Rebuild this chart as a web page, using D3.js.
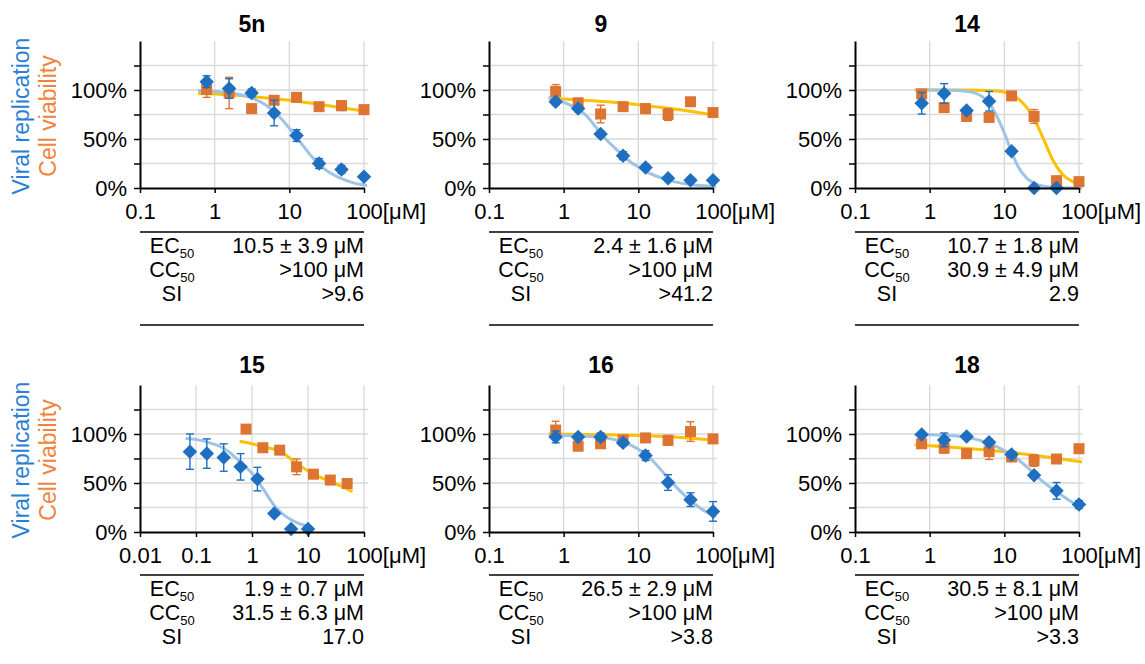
<!DOCTYPE html>
<html>
<head>
<meta charset="utf-8">
<script src="https://cdn.jsdelivr.net/npm/d3@7"></script>
<style>
  body { margin: 0; background: #fff; }
  svg { display: block; font-family: "Liberation Sans", Arial, sans-serif; }
</style>
</head>
<body>
<svg id="chart" width="1145" height="664"></svg>
<script>
// compound names
var titles = ['5n', '9', '14', '15', '16', '18']

// concentrations [µM]
var conc = [0.78125, 1.5625, 3.125, 6.25, 12.5, 25, 50, 100]
var conc14Viral = [0.78125, 1.5625, 3.125, 6.25, 12.5, 25, 50]
var conc15Viral = [0.078, 0.156, 0.3125, 0.625, 1.25, 2.5, 5, 10]
var conc15Cell = [0.78125, 1.5625, 3.125, 6.25, 12.5, 25, 50]

// 5n
var viral5n = [108.5, 101.5, 97, 76.5, 53.5, 25, 19, 11.5]
var viral5nErr = [6, 10, 4, 13, 6, 5, 4, 2]
var cell5n = [100.5, 97, 81, 89.5, 92.5, 83, 84, 80]
var cell5nErr = [8, 16, 1, 4, 2, 3, 5, 2]
var fitViral5n = [[0.6, 99.5], [1, 98.7], [2, 96], [3, 92.5], [5, 84], [7, 74.5], [10, 61], [15, 44], [20, 32], [30, 19], [50, 9.5], [70, 5.5], [100, 3], [110, 2.5]]
var fitCell5n = [[0.6, 96.5], [1, 95.8], [3, 93.5], [10, 89.5], [30, 84.5], [110, 78]]

// 9
var viral9 = [88, 81, 55, 33, 21, 10, 8, 8]
var viral9Err = [3, 3, 3, 4, 3, 1.5, 1, 1]
var cell9 = [98.5, 87, 75.5, 83, 81, 75, 88, 77]
var cell9Err = [7, 2, 9, 2, 5, 6, 4, 4]
var fitViral9 = [[0.63, 92.5], [0.78, 90], [1, 87.5], [1.56, 80], [2, 74], [3, 57.5], [4, 47], [5, 40], [6.25, 33], [8, 26], [10, 21.5], [12.5, 17], [20, 10.5], [30, 6.5], [50, 3.5], [100, 1.5], [110, 1.3]]
var fitCell9 = [[0.63, 91.5], [1, 90.8], [3, 88.5], [10, 85], [30, 80.5], [110, 74]]

// 14
var viral14 = [86.5, 96.5, 79, 88.5, 37.5, 0, 0]
var viral14Err = [11, 10, 3, 10, 3, 0, 0]
var cell14 = [96, 82, 73, 72, 94, 73, 7.5, 6.5]
var cell14Err = [2, 1, 2, 1, 3, 7, 2, 1]
var fitViral14 = [[0.63, 100], [1, 100], [2, 99.7], [3, 98.8], [4, 97], [5, 93.5], [6.25, 87], [8, 72.5], [10, 56], [12.5, 37], [15, 23], [20, 10], [25, 5], [35, 1.5], [50, 0.5], [110, 0]]
var fitCell14 = [[0.63, 100], [3, 100], [6, 99.5], [10, 98], [12.5, 95.5], [16, 90], [20, 82], [25, 71], [30, 58], [35, 46.5], [45, 28], [60, 14], [80, 7], [110, 4]]

// 15
var viral15 = [82, 80, 76, 66.5, 54, 19, 3, 3]
var viral15Err = [18, 15, 14, 13.5, 12, 2, 1, 1]
var cell15 = [105, 86, 83.5, 66.5, 59, 53, 49.5]
var cell15Err = [1, 3, 1, 8, 1, 1, 1]
var fitViral15 = [[0.065, 95.5], [0.1, 94.5], [0.2, 90], [0.3, 86], [0.5, 76.5], [0.625, 71], [1, 60], [1.5, 46], [2.5, 27], [3.5, 18.5], [5, 12.5], [7, 8.5], [11, 5.5]]
var fitCell15 = [[0.6, 92.5], [1, 90], [1.56, 87], [3.125, 82.5], [6.25, 70], [12.5, 59], [25, 51.5], [50, 44], [62, 41]]

// 16
var viral16 = [97, 97, 97, 91, 78, 50.5, 33, 21]
var viral16Err = [6, 3, 4, 3, 5, 8, 7, 10]
var cell16 = [104, 87.5, 90, 94, 96, 93.5, 102.5, 95]
var cell16Err = [9, 1, 3, 1, 1, 5, 10, 1]
var fitViral16 = [[0.63, 98.7], [1, 98.4], [2, 97.6], [3, 96.7], [5, 94], [7, 90.5], [10, 84.5], [15, 74], [20, 63.5], [25, 55], [35, 43], [50, 32], [70, 23.5], [100, 17], [110, 15.5]]
var fitCell16 = [[0.63, 100], [1, 99.8], [3, 99.3], [10, 98.5], [30, 97], [110, 93.5]]

// 18
var viral18 = [99.5, 94, 97.5, 91.5, 79, 58, 42, 28]
var viral18Err = [2, 7, 3, 3, 3, 3, 8.5, 4]
var cell18 = [90, 85.5, 80, 82, 76.5, 73, 74.5, 85]
var cell18Err = [2, 5, 1, 8, 2, 6, 1, 4]
var fitViral18 = [[0.63, 99.5], [1, 99.2], [2, 98.2], [3, 96.8], [5, 93], [7, 89], [10, 83], [15, 74.5], [20, 66.5], [30, 54], [50, 41], [70, 33.5], [100, 26], [110, 24.5]]
var fitCell18 = [[0.63, 89], [1, 88], [3, 85.5], [10, 82], [30, 77.5], [110, 71.5]]

// table below each plot
var tableEC = ['10.5 ± 3.9 μM', '2.4 ± 1.6 μM', '10.7 ± 1.8 μM', '1.9 ± 0.7 μM', '26.5 ± 2.9 μM', '30.5 ± 8.1 μM']
var tableCC = ['>100 μM', '>100 μM', '30.9 ± 4.9 μM', '31.5 ± 6.3 μM', '>100 μM', '>100 μM']
var tableSI = ['>9.6', '>41.2', '2.9', '17.0', '>3.8', '>3.3']

var xTicksStd = [0.1, 1, 10, 100]
var xTicks15 = [0.01, 0.1, 1, 10, 100]
var yTicks = [0, 25, 50, 75, 100, 125]

var compounds = [
  { vx: conc, vy: viral5n, ve: viral5nErr, cx: conc, cy: cell5n, ce: cell5nErr, fv: fitViral5n, fc: fitCell5n, ticks: xTicksStd },
  { vx: conc, vy: viral9, ve: viral9Err, cx: conc, cy: cell9, ce: cell9Err, fv: fitViral9, fc: fitCell9, ticks: xTicksStd },
  { vx: conc14Viral, vy: viral14, ve: viral14Err, cx: conc, cy: cell14, ce: cell14Err, fv: fitViral14, fc: fitCell14, ticks: xTicksStd },
  { vx: conc15Viral, vy: viral15, ve: viral15Err, cx: conc15Cell, cy: cell15, ce: cell15Err, fv: fitViral15, fc: fitCell15, ticks: xTicks15 },
  { vx: conc, vy: viral16, ve: viral16Err, cx: conc, cy: cell16, ce: cell16Err, fv: fitViral16, fc: fitCell16, ticks: xTicksStd },
  { vx: conc, vy: viral18, ve: viral18Err, cx: conc, cy: cell18, ce: cell18Err, fv: fitViral18, fc: fitCell18, ticks: xTicksStd }
]

var BLUE = '#1f6fc0'
var BLUE_FIT = '#9dc3e6'
var ORANGE = '#dd7431'
var ORANGE_FIT = '#ffc000'
var GRID = '#d9d9d9'
var FS = 22
var FONT = '"Liberation Sans", Arial, sans-serif'

var colX = [140, 489, 855]
var plotW = 224
var rows = [
  { top: 41, bottom: 188, title: 32, table: 232, ylab: 116 },
  { top: 385, bottom: 532, title: 373, table: 575, ylab: 460 }
]

var svg = d3.select('#chart')

rows.forEach(function (r) {
  svg.append('text')
    .attr('transform', 'translate(29,' + r.ylab + ') rotate(-90)')
    .attr('text-anchor', 'middle')
    .style('font-size', '23px')
    .style('fill', '#2a7fd2')
    .text('Viral replication')
  svg.append('text')
    .attr('transform', 'translate(56,' + r.ylab + ') rotate(-90)')
    .attr('text-anchor', 'middle')
    .style('font-size', '23px')
    .style('fill', '#f0843c')
    .text('Cell viability')
})

function fmtTick (d) {
  if (d < 0.1) return '0.01'
  if (d < 1) return '0.1'
  return String(d)
}

compounds.forEach(function (c, i) {
  var r = rows[Math.floor(i / 3)]
  var x0 = colX[i % 3]
  var ticks = c.ticks

  var x = d3.scaleLog().domain([ticks[0], 100]).range([x0, x0 + plotW])
  var y = d3.scaleLinear().domain([0, 150]).range([r.bottom, r.top])

  var g = svg.append('g')

  // title
  g.append('text')
    .attr('x', x0 + plotW / 2)
    .attr('y', r.title)
    .attr('text-anchor', 'middle')
    .style('font-size', '23px')
    .style('font-weight', 'bold')
    .text(titles[i])

  // grid
  var grid = g.append('g')
  grid.selectAll('line.h')
    .data(yTicks.slice(1))
    .enter().append('line')
    .attr('x1', x0).attr('x2', x0 + plotW + 4)
    .attr('y1', function (d) { return y(d) })
    .attr('y2', function (d) { return y(d) })
    .attr('stroke', GRID).attr('stroke-width', 1.3)
  grid.selectAll('line.v')
    .data(ticks.slice(1))
    .enter().append('line')
    .attr('x1', function (d) { return x(d) })
    .attr('x2', function (d) { return x(d) })
    .attr('y1', r.bottom).attr('y2', r.top)
    .attr('stroke', GRID).attr('stroke-width', 1.3)

  // fitted curves
  var line = d3.line()
    .x(function (d) { return x(d[0]) })
    .y(function (d) { return y(d[1]) })
    .curve(d3.curveMonotoneX)

  g.append('path').datum(c.fc)
    .attr('d', line).attr('fill', 'none')
    .attr('stroke', ORANGE_FIT).attr('stroke-width', 3)
  g.append('path').datum(c.fv)
    .attr('d', line).attr('fill', 'none')
    .attr('stroke', BLUE_FIT).attr('stroke-width', 3)

  function drawSeries (xs, ys, es, color, symbolSize, rotate) {
    var pts = xs.map(function (v, k) { return { x: v, y: ys[k], e: es[k] } })
    var s = g.append('g')
    var eb = s.selectAll('g.err').data(pts).enter().append('g')
      .attr('stroke', color).attr('stroke-width', 1.4)
    eb.append('line')
      .attr('x1', function (d) { return x(d.x) }).attr('x2', function (d) { return x(d.x) })
      .attr('y1', function (d) { return y(d.y - d.e) }).attr('y2', function (d) { return y(d.y + d.e) })
    eb.append('line')
      .attr('x1', function (d) { return x(d.x) - 4 }).attr('x2', function (d) { return x(d.x) + 4 })
      .attr('y1', function (d) { return y(d.y + d.e) }).attr('y2', function (d) { return y(d.y + d.e) })
    eb.append('line')
      .attr('x1', function (d) { return x(d.x) - 4 }).attr('x2', function (d) { return x(d.x) + 4 })
      .attr('y1', function (d) { return y(d.y - d.e) }).attr('y2', function (d) { return y(d.y - d.e) })
    s.selectAll('path.m').data(pts).enter().append('path')
      .attr('d', d3.symbol(d3.symbolSquare, symbolSize))
      .attr('transform', function (d) {
        return 'translate(' + x(d.x) + ',' + y(d.y) + ') rotate(' + rotate + ')'
      })
      .attr('fill', color)
  }

  drawSeries(c.cx, c.cy, c.ce, ORANGE, 121, 0)
  drawSeries(c.vx, c.vy, c.ve, BLUE, 105, 45)

  // axes
  var xAxis = g.append('g')
    .attr('transform', 'translate(0,' + r.bottom + ')')
    .call(d3.axisBottom(x).tickValues(ticks).tickSize(5).tickSizeOuter(0).tickFormat(fmtTick))
  xAxis.select('.domain').attr('stroke', '#000').attr('stroke-width', 2)
  xAxis.selectAll('.tick line').attr('stroke', '#000').attr('stroke-width', 1.5)
  xAxis.selectAll('.tick text')
    .attr('y', 15).attr('fill', '#000')
    .style('font-size', FS + 'px').style('font-family', FONT)
  xAxis.selectAll('.tick text').filter(function (d) { return d === 100 })
    .each(function () {
      var w = this.getComputedTextLength()
      d3.select(this).attr('text-anchor', 'start').attr('x', -w / 2)
        .append('tspan').text('[μM]')
    })

  var yAxis = g.append('g')
    .attr('transform', 'translate(' + x0 + ',0)')
    .call(d3.axisLeft(y).tickValues(yTicks).tickSize(6).tickSizeOuter(0).tickPadding(7)
      .tickFormat(function (d) { return d % 50 === 0 ? d + '%' : '' }))
  yAxis.select('.domain').attr('stroke', '#000').attr('stroke-width', 2)
  yAxis.selectAll('.tick line').attr('stroke', '#000').attr('stroke-width', 1.5)
  yAxis.selectAll('.tick text')
    .attr('fill', '#000')
    .style('font-size', FS + 'px').style('font-family', FONT)

  // table
  var t = g.append('g')
  t.append('line')
    .attr('x1', x0).attr('x2', x0 + plotW)
    .attr('y1', r.table).attr('y2', r.table)
    .attr('stroke', '#000').attr('stroke-width', 1.5)
  t.append('line')
    .attr('x1', x0).attr('x2', x0 + plotW)
    .attr('y1', r.table + 93).attr('y2', r.table + 93)
    .attr('stroke', '#000').attr('stroke-width', 1.5)

  var labels = [['EC', '50'], ['CC', '50'], ['SI', '']]
  var values = [tableEC[i], tableCC[i], tableSI[i]]
  var offs = [21, 45, 69]
  labels.forEach(function (lab, k) {
    var tx = t.append('text')
      .attr('x', x0 + 32).attr('y', r.table + offs[k])
      .attr('text-anchor', 'middle')
      .style('font-size', '21.5px')
      .text(lab[0])
    if (lab[1]) {
      tx.append('tspan').attr('dy', 5).style('font-size', '13px').text(lab[1])
    }
    t.append('text')
      .attr('x', x0 + plotW).attr('y', r.table + offs[k])
      .attr('text-anchor', 'end')
      .style('font-size', '21.5px')
      .text(values[k])
  })
})
</script>
</body>
</html>
